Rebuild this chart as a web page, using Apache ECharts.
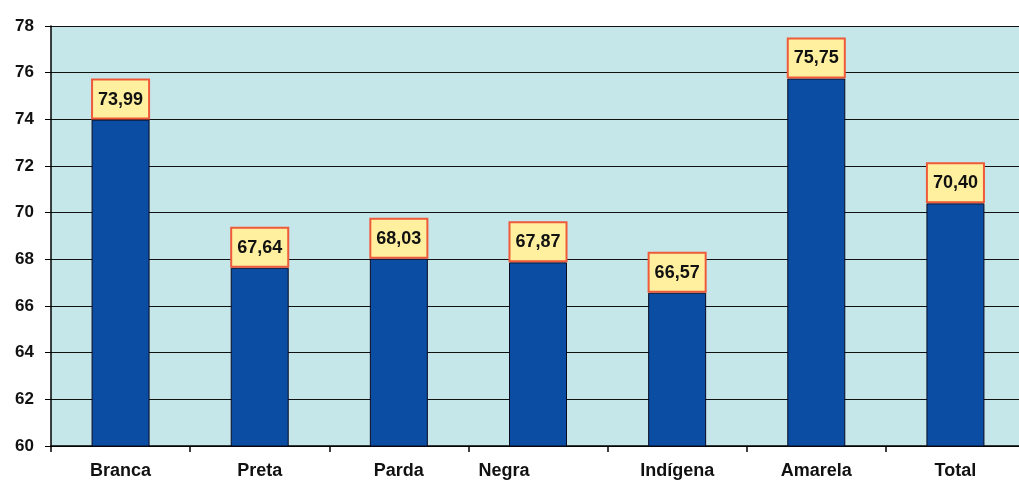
<!DOCTYPE html>
<html><head><meta charset="utf-8">
<script src="https://cdn.jsdelivr.net/npm/echarts@6/dist/echarts.min.js"></script>
<style>html,body{margin:0;padding:0;background:#fff}#c{width:1019px;height:483px}</style>
</head><body><div id="c"></div>
<script>
const categories = ['Branca','Preta','Parda','Negra','Indígena','Amarela','Total'];
const values = [73.99, 67.64, 68.03, 67.87, 66.57, 75.75, 70.40];
const yTicks = [60,62,64,66,68,70,72,74,76,78];

const chart = echarts.init(document.getElementById('c'));
chart.setOption({
  animation:false,
  grid:{left:51, top:26, width:974, height:420, backgroundColor:'#C6E7E9', show:true, borderWidth:0,
    outerBoundsMode:'none', containLabel:false},
  xAxis:{type:'category', data:categories.map(c => c==='Negra' ? {value:c, textStyle:{padding:[0,68,0,0]}} : c),
    axisLine:{lineStyle:{color:'#000', width:1.5}},
    axisTick:{show:true, length:6, lineStyle:{color:'#000', width:1.5}},
    axisLabel:{color:'#111', fontWeight:'bold', fontSize:18, fontFamily:'Liberation Sans, Arial', margin:16},
    splitLine:{show:false}},
  yAxis:{type:'value', min:yTicks[0], max:yTicks[yTicks.length-1], interval:2,
    axisLine:{show:true, lineStyle:{color:'#000', width:1.5}},
    axisTick:{show:true, length:6, lineStyle:{color:'#000'}},
    axisLabel:{color:'#111', fontWeight:'bold', fontSize:17, fontFamily:'Liberation Sans, Arial', margin:17},
    splitLine:{lineStyle:{color:'#111', width:1.2}}},
  series:[{type:'bar', data:values, barWidth:58,
    itemStyle:{color:'#0B4DA2', borderColor:'#0a0a20', borderWidth:1},
    label:{show:true, position:'top', distance:2,
      formatter:p => p.value.toFixed(2).replace('.',','),
      color:'#111', fontWeight:'bold', fontSize:18, fontFamily:'Liberation Sans, Arial',
      backgroundColor:'#FFF0A0', borderColor:'#EE5A3A', borderWidth:2, padding:[10,5,9,5]}}]
});
</script></body></html>
